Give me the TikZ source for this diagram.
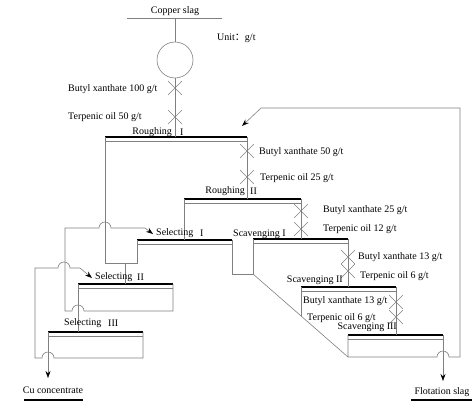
\documentclass[tikz,border=0pt]{standalone}
\usepackage{fontspec}
\setmainfont{Liberation Serif}
\newfontfamily\cjk{Noto Sans CJK SC}
\usetikzlibrary{arrows.meta,shapes.misc}

\definecolor{pipegray}{gray}{0.5}

\tikzset{
  pipe/.style={draw=pipegray, line width=0.6pt},
  cellbar/.style={draw=black, line width=2pt},
  lbl/.style={font=\fontsize{10}{12}\selectfont, inner sep=0pt, text=black},
  flow/.style={pipe, -{Stealth[length=7pt,width=5pt,color=black]}},
  dose/.style={pipe, cross out, minimum size=13pt, inner sep=0pt}
}

\begin{document}
\begin{tikzpicture}[x=1pt,y=-1pt]
    \useasboundingbox (0,0) rectangle (474,402);

    % Flotation cells (bar + thin line under it)
    \foreach \n/\xa/\xb/\yy in {r1/105/247/137, r2/184/301/199, s1/137/232/240,
        v1/253/348/239, v2/301/396/287, v3/348/443/335, s2/78/173/284, s3/48/143/332}{
        \coordinate (\n-w) at (\xa,\yy);
        \coordinate (\n-e) at (\xb,\yy);
        \draw[pipe] (\xa,\yy+4.5) -- (\xb,\yy+4.5);
        \draw[cellbar] (\n-w) -- (\n-e);
    }

    % Feed
    \node[lbl] (slag) at (175,11) {Copper slag};
    \draw[pipe] (127,18) -- (222,18);
    \coordinate (feed) at (175,18);
    \node[pipe, circle, draw, minimum size=36pt, inner sep=0pt] (mill) at (175,60) {};
    \coordinate (r1-in) at (175,137);
    \draw[pipe] (feed) -- (mill.north);
    \draw[pipe] (mill.south) -- (r1-in);
    \node[dose] (d0a) at (175,88) {};
    \node[dose] (d0b) at (175,117) {};
    \node[lbl, anchor=west] (t0a) at (68,89) {Butyl xanthate 100 g/t};
    \node[lbl, anchor=west] (t0b) at (68,117) {Terpenic oil 50 g/t};
    \node[lbl, anchor=west] (unit) at (217,38) {Unit{\cjk ：}g/t};

    % Roughing I
    \node[lbl, anchor=east] (r1a) at (172,132) {Roughing};
    \node[lbl, anchor=west] (r1b) at (180,132) {I};
    \coordinate (r2-in) at (247,199);
    \draw[pipe] (r1-e) -- (r2-in);
    \node[dose] (d1a) at (247,151) {};
    \node[dose] (d1b) at (247,177) {};
    \node[lbl, anchor=west] (t1a) at (259,152) {Butyl xanthate 50 g/t};
    \node[lbl, anchor=west] (t1b) at (260,178) {Terpenic oil 25 g/t};

    % Roughing II
    \node[lbl, anchor=east] (r2a) at (245,191) {Roughing};
    \node[lbl, anchor=west] (r2b) at (250,191) {II};
    \draw[pipe] (r2-w) -- (r2-w |- s1-w);
    \coordinate (v1-in) at (301,239);
    \draw[pipe] (r2-e) -- (v1-in);
    \node[dose] (d2a) at (301,211) {};
    \node[dose] (d2b) at (301,229) {};
    \node[lbl, anchor=west] (t2a) at (323,210) {Butyl xanthate 25 g/t};
    \node[lbl, anchor=west] (t2b) at (323,229) {Terpenic oil 12 g/t};

    % Selecting I
    \node[lbl, anchor=west] (s1a) at (156,233) {Selecting};
    \node[lbl, anchor=west] (s1b) at (200,233) {I};
    \draw[pipe] (r1-w) -- (105,263) -- (137,263) -- (s1-w);
    \draw[pipe] (125,263) -- (125,284);
    \draw[pipe] (s1-e) -- (232,274) -- (253,274) -- (v1-w);

    % Scavenging I
    \node[lbl, anchor=west] (v1a) at (233,234) {Scavenging I};
    \draw[pipe] (253,274) -- (348,357);
    \draw[pipe] (v1-e) -- (v1-e |- v2-w);
    \node[dose] (d3a) at (348,257) {};
    \node[dose] (d3b) at (348,271) {};
    \node[lbl, anchor=west] (t3a) at (358,257) {Butyl xanthate 13 g/t};
    \node[lbl, anchor=west] (t3b) at (360,276) {Terpenic oil 6 g/t};

    % Scavenging II
    \node[lbl, anchor=east] (v2a) at (343,280) {Scavenging II};
    \draw[pipe] (v2-w) -- (301,316);
    \draw[pipe] (v2-e) -- (v2-e |- v3-w);
    \node[dose] (d4a) at (396,302) {};
    \node[dose] (d4b) at (396,317) {};
    \node[lbl, anchor=west] (t4a) at (303,301) {Butyl xanthate 13 g/t};
    \node[lbl, anchor=west] (t4b) at (307,318) {Terpenic oil 6 g/t};

    % Scavenging III and recycle to roughing
    \node[lbl, anchor=east] (v3a) at (397,327) {Scavenging III};
    \coordinate (slag-out) at (443,381);
    \coordinate (r1-back) at (242,126);
    \draw[flow] (v3-w) -- (348,357) -- (437,357) arc[start angle=-180, end angle=0, radius=6]
        -- (460,357) -- (460,108) -- (261,108) -- (r1-back);
    \draw[flow] (v3-e) -- (slag-out);
    \node[lbl] (tail) at (442,392) {Flotation slag};
    \draw[cellbar] (411,400) -- (472,400);

    % Selecting II
    \node[lbl, anchor=west] (s2a) at (95,277) {Selecting};
    \node[lbl, anchor=west] (s2b) at (137,277) {II};
    \draw[pipe] (s2-w) -- (s2-w |- s3-w);
    \coordinate (s1-back) at (153,234);
    \draw[flow] (s2-e) -- (173,311) -- (84,311) arc[start angle=0, end angle=-180, radius=6]
        -- (65,311) -- (65,228) -- (99,228) arc[start angle=-180, end angle=0, radius=6]
        -- (145,228) -- (s1-back);

    % Selecting III
    \node[lbl, anchor=west] (s3a) at (64,323) {Selecting};
    \node[lbl, anchor=west] (s3b) at (108,323) {III};
    \coordinate (conc-out) at (48,378);
    \coordinate (s2-back) at (92,278);
    \draw[flow] (s3-e) -- (143,358) -- (54,358) arc[start angle=0, end angle=-180, radius=6]
        -- (35,358) -- (35,268) -- (58,268) arc[start angle=-180, end angle=0, radius=6]
        -- (80,268) -- (s2-back);
    \draw[flow] (s3-w) -- (conc-out);
    \node[lbl] (conc) at (53,390) {Cu concentrate};
    \draw[cellbar] (24,400) -- (83,400);
\end{tikzpicture}
\end{document}
